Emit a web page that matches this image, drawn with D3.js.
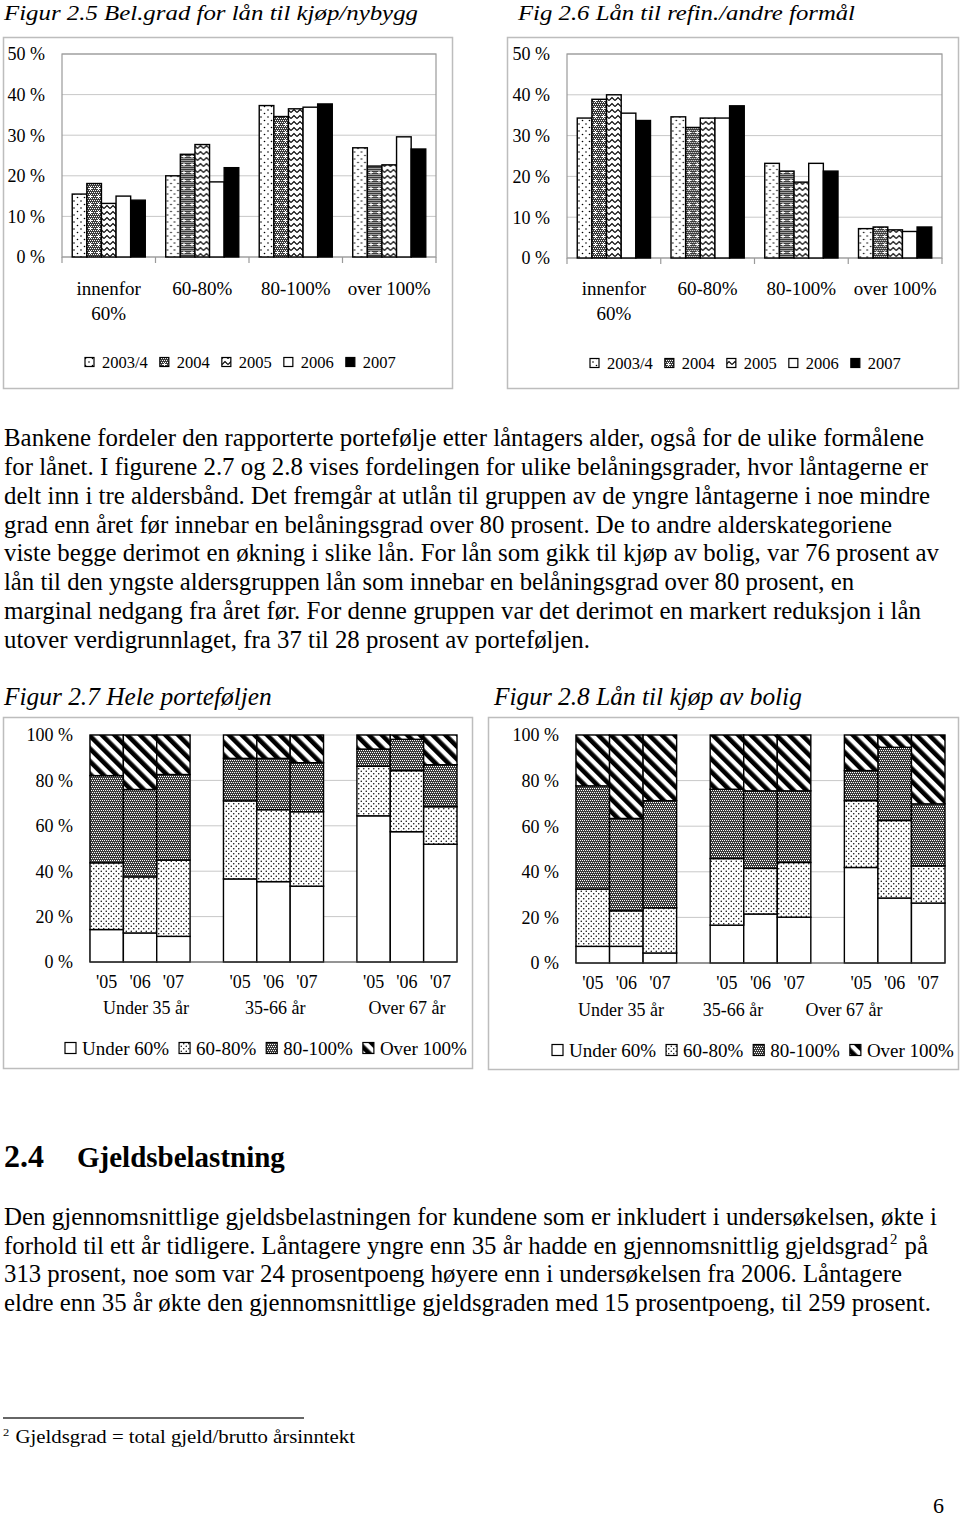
<!DOCTYPE html>
<html>
<head>
<meta charset="utf-8">
<script src="https://cdn.jsdelivr.net/npm/d3@7"></script>
<style>
  body { margin: 0; background: #fff; }
  svg { display: block; }
  text { font-family: "Liberation Serif", "Times New Roman", serif; fill: #000; }
</style>
</head>
<body>
<svg id="page" width="960" height="1518"></svg>
<script>
// ---- data ----
var ltvCats = [["innenfor", "60%"], ["60-80%"], ["80-100%"], ["over 100%"]];
var years = ["2003/4", "2004", "2005", "2006", "2007"];
// fig 2.5, per category, one value per year (%)
var nybygg = [
  [15.5, 18.1, 13.2, 15.0, 14.0],
  [20.0, 25.3, 27.7, 18.5, 22.0],
  [37.3, 34.6, 36.5, 36.9, 37.7],
  [26.9, 22.4, 22.7, 29.6, 26.6]
];
// fig 2.6
var refin = [
  [34.3, 38.9, 40.0, 35.5, 33.7],
  [34.6, 32.0, 34.3, 34.3, 37.3],
  [23.2, 21.3, 18.6, 23.2, 21.3],
  [7.2, 7.6, 6.9, 6.5, 7.6]
];
var yTicks25 = [0, 10, 20, 30, 40, 50];

var ageGroups = ["Under 35 år", "35-66 år", "Over 67 år"];
var yearShort = ["'05", "'06", "'07"];
var bands = ["Under 60%", "60-80%", "80-100%", "Over 100%"];
// fig 2.7, per age group, per year: [under60, 60-80, 80-100, over100]
var hele = [
  [[14.3, 29.4, 38.4, 17.9], [12.8, 24.7, 38.5, 24.0], [11.3, 33.6, 37.7, 17.4]],
  [[36.6, 34.4, 18.7, 10.3], [35.4, 31.7, 22.6, 10.3], [33.4, 32.8, 21.6, 12.2]],
  [[64.4, 21.8, 7.6, 6.2], [57.4, 26.9, 13.8, 1.9], [51.9, 16.5, 18.5, 13.1]]
];
// fig 2.8
var bolig = [
  [[7.3, 25.1, 45.3, 22.3], [7.3, 15.6, 40.5, 36.6], [4.4, 19.8, 47.0, 28.8]],
  [[16.6, 29.2, 30.4, 23.8], [21.5, 20.0, 34.0, 24.5], [20.1, 24.0, 31.4, 24.5]],
  [[41.9, 29.3, 13.2, 15.6], [28.5, 34.0, 32.1, 5.4], [26.3, 16.3, 27.2, 30.2]]
];
var yTicks27 = [0, 20, 40, 60, 80, 100];

var para1 = [
  "Bankene fordeler den rapporterte portefølje etter låntagers alder, også for de ulike formålene",
  "for lånet. I figurene 2.7 og 2.8 vises fordelingen for ulike belåningsgrader, hvor låntagerne er",
  "delt inn i tre aldersbånd. Det fremgår at utlån til gruppen av de yngre låntagerne i noe mindre",
  "grad enn året før innebar en belåningsgrad over 80 prosent. De to andre alderskategoriene",
  "viste begge derimot en økning i slike lån. For lån som gikk til kjøp av bolig, var 76 prosent av",
  "lån til den yngste aldersgruppen lån som innebar en belåningsgrad over 80 prosent, en",
  "marginal nedgang fra året før. For denne gruppen var det derimot en markert reduksjon i lån",
  "utover verdigrunnlaget, fra 37 til 28 prosent av porteføljen."
];
// [text, footnote mark, text after it]
var para2 = [
  ["Den gjennomsnittlige gjeldsbelastningen for kundene som er inkludert i undersøkelsen, økte i"],
  ["forhold til ett år tidligere. Låntagere yngre enn 35 år hadde en gjennomsnittlig gjeldsgrad", "2", " på"],
  ["313 prosent, noe som var 24 prosentpoeng høyere enn i undersøkelsen fra 2006. Låntagere"],
  ["eldre enn 35 år økte den gjennomsnittlige gjeldsgraden med 15 prosentpoeng, til 259 prosent."]
];

// layout: right ends of the text lines
var para1Ends = [924, 928, 930, 892, 939, 854, 921, 590];
var para2Ends = [937, 928, 902, 931];

var svg = d3.select("#page");
var defs = svg.append("defs");

// ---- fill patterns ----
function pattern(id, w, h, draw, transform) {
  var p = defs.append("pattern")
      .attr("id", id)
      .attr("patternUnits", "userSpaceOnUse")
      .attr("width", w)
      .attr("height", h);
  if (transform) p.attr("patternTransform", transform);
  draw(p);
}
function grayMesh(p, w, h) {
  p.append("rect").attr("width", w).attr("height", h).attr("fill", "#3c3c3c");
  for (var i = 0; i < w; i += 2)
    for (var j = 0; j < h; j += 2)
      p.append("rect").attr("x", i + ((j / 2) % 2)).attr("y", j).attr("width", 1).attr("height", 1).attr("fill", "#fff");
}
pattern("dots", 7, 7, function(p) {
  p.append("rect").attr("width", 7).attr("height", 7).attr("fill", "#fff");
  p.append("circle").attr("cx", 1.5).attr("cy", 1.5).attr("r", 0.8).attr("fill", "#000");
  p.append("circle").attr("cx", 5).attr("cy", 5).attr("r", 0.8).attr("fill", "#000");
});
pattern("mesh", 8, 8, function(p) {
  grayMesh(p, 8, 8);
  p.append("rect").attr("x", 3).attr("y", 4).attr("width", 3).attr("height", 1).attr("fill", "#fff");
  p.append("rect").attr("x", 4).attr("y", 3).attr("width", 1).attr("height", 3).attr("fill", "#fff");
});
pattern("zigzag", 6, 6, function(p) {
  p.append("rect").attr("width", 6).attr("height", 6).attr("fill", "#fff");
  p.append("path").attr("d", "M0,4.5L3,1.5L6,4.5").attr("fill", "none").attr("stroke", "#000").attr("stroke-width", 1.1);
});
pattern("dense", 5, 5, function(p) {
  p.append("rect").attr("width", 5).attr("height", 5).attr("fill", "#fff");
  p.append("circle").attr("cx", 1.25).attr("cy", 1.25).attr("r", 0.75).attr("fill", "#000");
  p.append("circle").attr("cx", 3.75).attr("cy", 3.75).attr("r", 0.75).attr("fill", "#000");
});
pattern("gray", 4, 4, function(p) { grayMesh(p, 4, 4); });
pattern("stripes", 9, 9, function(p) {
  p.append("rect").attr("width", 9).attr("height", 9).attr("fill", "#fff");
  p.append("rect").attr("width", 4.6).attr("height", 9).attr("fill", "#000");
}, "rotate(-45)");

var yearFill = ["url(#dots)", "url(#mesh)", "url(#zigzag)", "#fff", "#000"];
var bandFill = ["#fff", "url(#dense)", "url(#gray)", "url(#stripes)"];

// ---- helpers ----
function line(x, y, str, opts) {
  var t = svg.append("text")
      .attr("x", x)
      .attr("y", y)
      .attr("font-size", opts.size);
  if (Array.isArray(str)) {
    t.append("tspan").text(str[0]);
    if (str[1]) {
      t.append("tspan").attr("font-size", opts.size * 0.6)
          .attr("dx", str[0] ? 1.5 : 0).attr("dy", -opts.size * 0.4).text(str[1]);
      t.append("tspan").attr("dx", 1).attr("dy", opts.size * 0.4).text(str[2]);
    }
  } else {
    t.text(str);
  }
  if (opts.italic) t.attr("font-style", "italic");
  if (opts.bold) t.attr("font-weight", "bold");
  if (opts.fit) {
    // size the font so the natural width matches the target
    var w = t.node().getComputedTextLength();
    t.attr("font-size", opts.size * opts.fit / w);
  } else if (opts.width) {
    t.attr("textLength", opts.width).attr("lengthAdjust", "spacingAndGlyphs");
  }
  return t;
}

// common font size of a paragraph, from its first (full) line
function paraSize(str, width) {
  var t = svg.append("text").attr("font-size", 20).text(str);
  var s = 20 * width / t.node().getComputedTextLength();
  t.remove();
  return s;
}

function legend(g, x, y, labels, fills, size, fontSize, gap1, gap2) {
  var cx = x;
  labels.forEach(function(lab, i) {
    g.append("rect")
        .attr("x", cx).attr("y", y - size / 2)
        .attr("width", size).attr("height", size)
        .attr("fill", fills[i])
        .attr("stroke", "#000").attr("stroke-width", 1.2);
    var t = g.append("text")
        .attr("x", cx + size + gap1)
        .attr("y", y)
        .attr("dy", "0.35em")
        .attr("font-size", fontSize)
        .text(lab);
    cx += size + gap1 + t.node().getComputedTextLength() + gap2;
  });
}

function frame(x, y, w, h) {
  svg.append("rect")
      .attr("x", x + 0.5).attr("y", y + 0.5)
      .attr("width", w).attr("height", h)
      .attr("fill", "none")
      .attr("stroke", "#bdbdbd")
      .attr("stroke-width", 1.5);
}

function groupedChart(cfg) {
  frame(cfg.box[0], cfg.box[1], cfg.box[2], cfg.box[3]);
  var g = svg.append("g");
  var x0 = d3.scaleBand().domain(d3.range(ltvCats.length)).range([cfg.left, cfg.right]);
  var x1 = d3.scaleBand().domain(years).range([0, x0.bandwidth()]).paddingOuter(0.7);
  var y = d3.scaleLinear().domain([0, 50]).range([cfg.bottom, cfg.top]);

  g.selectAll(".grid").data(yTicks25).join("line")
      .attr("x1", cfg.left).attr("x2", cfg.right)
      .attr("y1", d => y(d)).attr("y2", d => y(d))
      .attr("stroke", "#c8c8c8").attr("stroke-width", 1);
  g.append("rect")
      .attr("x", cfg.left).attr("y", cfg.top)
      .attr("width", cfg.right - cfg.left).attr("height", cfg.bottom - cfg.top)
      .attr("fill", "none").attr("stroke", "#9a9a9a").attr("stroke-width", 1.2);

  g.selectAll(".ylab").data(yTicks25).join("text")
      .attr("x", cfg.left - 17)
      .attr("y", d => y(d))
      .attr("dy", "0.35em")
      .attr("text-anchor", "end")
      .attr("font-size", 18)
      .text(d => d + " %");

  // category ticks below the axis
  g.selectAll(".tick").data(d3.range(ltvCats.length + 1)).join("line")
      .attr("x1", d => cfg.left + d * x0.step()).attr("x2", d => cfg.left + d * x0.step())
      .attr("y1", cfg.bottom).attr("y2", cfg.bottom + 6)
      .attr("stroke", "#9a9a9a").attr("stroke-width", 1.2);

  var grp = g.selectAll(".grp").data(cfg.values).join("g")
      .attr("transform", (d, i) => "translate(" + x0(i) + ",0)");
  grp.selectAll("rect").data(d => d).join("rect")
      .attr("x", (d, i) => x1(years[i]))
      .attr("y", d => y(d))
      .attr("width", x1.bandwidth())
      .attr("height", d => cfg.bottom - y(d))
      .attr("fill", (d, i) => yearFill[i])
      .attr("stroke", "#000").attr("stroke-width", 1.4);

  ltvCats.forEach(function(lines, i) {
    lines.forEach(function(s, k) {
      g.append("text")
          .attr("x", x0(i) + x0.bandwidth() / 2)
          .attr("y", cfg.labelY + k * 25.5)
          .attr("dy", "0.35em")
          .attr("text-anchor", "middle")
          .attr("font-size", 19)
          .text(s);
    });
  });

  legend(g, cfg.legendX, cfg.legendY, years, yearFill, 9, 16.5, 8, 12);
}

function stackedChart(cfg) {
  frame(cfg.box[0], cfg.box[1], cfg.box[2], cfg.box[3]);
  var g = svg.append("g");
  var x = d3.scaleBand().domain(d3.range(11)).range([cfg.left, cfg.right]);
  var y = d3.scaleLinear().domain([0, 1]).range([cfg.bottom, cfg.top]);

  g.selectAll(".grid").data(yTicks27).join("line")
      .attr("x1", cfg.left).attr("x2", cfg.right)
      .attr("y1", d => y(d / 100)).attr("y2", d => y(d / 100))
      .attr("stroke", "#c8c8c8").attr("stroke-width", 1);
  g.append("line")
      .attr("x1", cfg.left).attr("x2", cfg.left)
      .attr("y1", cfg.top).attr("y2", cfg.bottom)
      .attr("stroke", "#9a9a9a");

  g.selectAll(".ylab").data(yTicks27).join("text")
      .attr("x", cfg.left - 17)
      .attr("y", d => y(d / 100))
      .attr("dy", "0.35em")
      .attr("text-anchor", "end")
      .attr("font-size", 18)
      .text(d => d + " %");

  var rows = [];
  cfg.values.forEach(function(grp, gi) {
    grp.forEach(function(vals, yi) {
      rows.push({ slot: gi * 4 + yi, year: yearShort[yi], vals: vals });
    });
  });
  var series = d3.stack()
      .keys(d3.range(bands.length))
      .value((d, k) => d.vals[k])
      .offset(d3.stackOffsetExpand)(rows);

  g.selectAll(".ser").data(series).join("g")
      .attr("fill", (d, i) => bandFill[i])
    .selectAll("rect").data(d => d).join("rect")
      .attr("x", d => x(d.data.slot))
      .attr("y", d => y(d[1]))
      .attr("width", x.bandwidth())
      .attr("height", d => y(d[0]) - y(d[1]))
      .attr("stroke", "#000").attr("stroke-width", 1.4);

  g.append("line")
      .attr("x1", cfg.left).attr("x2", cfg.right)
      .attr("y1", cfg.bottom).attr("y2", cfg.bottom)
      .attr("stroke", "#444").attr("stroke-width", 1.2);

  g.selectAll(".yr").data(rows).join("text")
      .attr("x", d => x(d.slot) + x.bandwidth() / 2)
      .attr("y", cfg.yearY)
      .attr("dy", "0.35em")
      .attr("text-anchor", "middle")
      .attr("font-size", 18)
      .text(d => d.year);

  g.selectAll(".age").data(ageGroups).join("text")
      .attr("x", (d, i) => cfg.left + (cfg.groupAt[i] + 0.5) * x.step())
      .attr("y", cfg.groupY)
      .attr("dy", "0.35em")
      .attr("text-anchor", "middle")
      .attr("font-size", 18)
      .text(d => d);

  legend(g, cfg.legendX, cfg.legendY, bands, bandFill, 11, 19, 6, 10);
}

// ---- top charts ----
line(4, 20, "Figur 2.5 Bel.grad for lån til kjøp/nybygg", { size: 22, italic: true, width: 414 });
line(518, 20, "Fig 2.6 Lån til refin./andre formål", { size: 22, italic: true, width: 337 });

groupedChart({
  box: [3, 37, 449, 351], left: 62, right: 436, top: 54, bottom: 257,
  values: nybygg, labelY: 288, legendX: 85, legendY: 362
});
groupedChart({
  box: [507, 37, 451, 351], left: 567, right: 942, top: 54, bottom: 258,
  values: refin, labelY: 288, legendX: 590, legendY: 363
});

// ---- paragraph 1 ----
var p1Size = paraSize(para1[0], para1Ends[0] - 4);
para1.forEach(function(s, i) {
  line(4, 446 + i * 28.86, s, { size: p1Size, width: para1Ends[i] - 4 });
});

// ---- bottom charts ----
line(4, 705, "Figur 2.7  Hele porteføljen", { size: 23, italic: true, fit: 268 });
line(494, 705, "Figur 2.8  Lån til kjøp av bolig", { size: 23, italic: true, fit: 308 });

stackedChart({
  box: [3, 717, 469, 351], left: 90, right: 457, top: 735, bottom: 962,
  values: hele, yearY: 982, groupY: 1008, groupAt: [1.18, 5.05, 9.0],
  legendX: 65, legendY: 1048
});
stackedChart({
  box: [488, 717, 470, 352], left: 576, right: 945, top: 735, bottom: 963,
  values: bolig, yearY: 983, groupY: 1010, groupAt: [0.84, 4.18, 7.49],
  legendX: 552, legendY: 1050
});

// ---- section 2.4 ----
line(4, 1167, "2.4", { size: 25, bold: true, fit: 40 });
line(77, 1167, "Gjeldsbelastning", { size: 25, bold: true, fit: 208 });

var p2Size = paraSize(para2[0][0], para2Ends[0] - 4);
para2.forEach(function(s, i) {
  line(4, 1225 + i * 28.7, s, { size: p2Size, width: para2Ends[i] - 4 });
});

// ---- footnote ----
svg.append("line")
    .attr("x1", 3).attr("x2", 304)
    .attr("y1", 1418).attr("y2", 1418)
    .attr("stroke", "#333").attr("stroke-width", 1.5);
line(3, 1443, ["", "2", " Gjeldsgrad = total gjeld/brutto årsinntekt"], { size: 18, width: 352 });

line(933, 1513, "6", { size: 22 });
</script>
</body>
</html>
